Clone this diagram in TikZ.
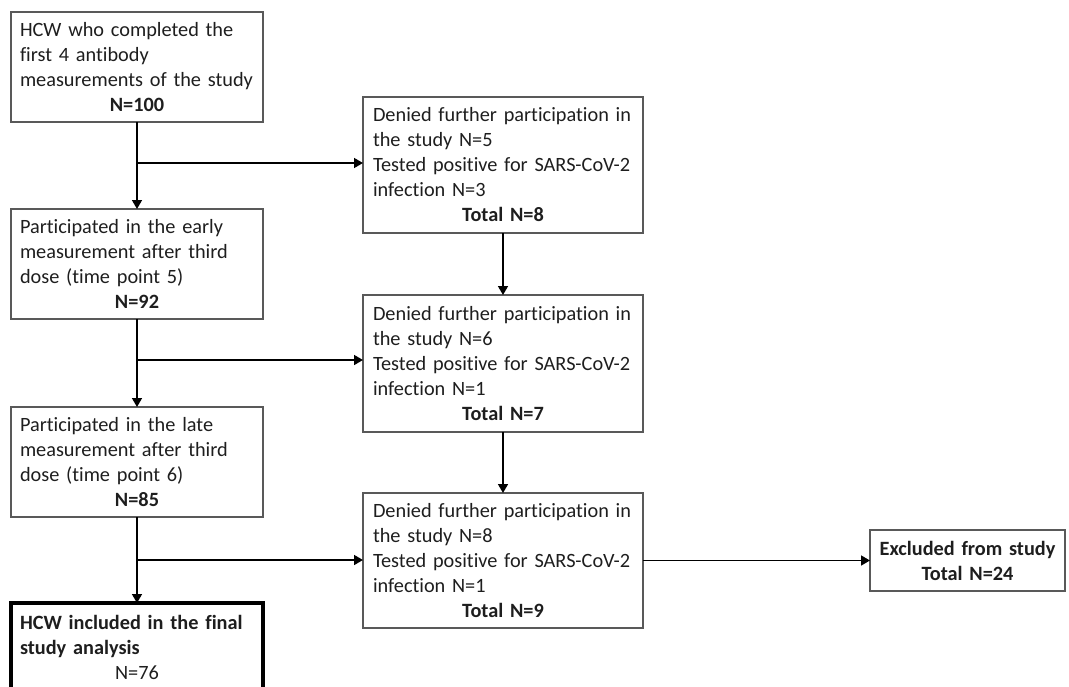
\documentclass[tikz,border=0pt]{standalone}
\usepackage{fontspec}
\setmainfont{Carlito}[Ligatures=NoCommon]
\usetikzlibrary{arrows.meta}
\definecolor{boxgray}{HTML}{595959}
\definecolor{txt}{HTML}{1E1E1E}
\newcommand\ctrline[1]{\hspace*{\fill}#1\hspace*{\fill}}
\begin{document}
\begin{tikzpicture}[x=1pt,y=-1pt,
  box/.style={draw=boxgray, line width=1.3pt, rectangle, anchor=north west,
    align=left, inner xsep=9pt, inner ysep=0pt, outer sep=0pt,
    font=\fontsize{20.3}{25}\selectfont, text=txt},
  leftbox/.style={box, text width=234pt, minimum height=110pt},
  sidebox/.style={box, inner xsep=10pt, text width=260pt},
  finalbox/.style={box, draw=black, line width=3.5pt, text width=234pt, minimum height=89pt},
  exbox/.style={box, align=center, text width=177pt, minimum height=61pt},
  conn/.style={line width=1.6pt, draw=black},
  arr/.style={conn, -{Triangle[length=9pt,width=10pt]}}]
\useasboundingbox (0,0) rectangle (1069,686);
\clip (0,0) rectangle (1069,686);

\node[leftbox] (A) at (11,12) {HCW who completed the\\first 4 antibody\\measurements of the study\\\ctrline{\textbf{N=100}}};
\node[leftbox] (C) at (11,209) {Participated in the early\\measurement after third\\dose (time point 5)\\\ctrline{\textbf{N=92}}};
\node[leftbox] (D) at (11,407) {Participated in the late\\measurement after third\\dose (time point 6)\\\ctrline{\textbf{N=85}}};
\node[finalbox] (E) at (11,603) {\textbf{HCW included in the final}\\\textbf{study analysis}\\\ctrline{N=76}};

\node[sidebox, minimum height=136pt] (B1) at (363,97) {Denied further participation in\\the study N=5\\Tested positive for SARS-CoV-2\\infection N=3\\\ctrline{\textbf{Total N=8}}};
\node[sidebox, minimum height=137pt] (B2) at (363,295) {Denied further participation in\\the study N=6\\Tested positive for SARS-CoV-2\\infection N=1\\\ctrline{\textbf{Total N=7}}};
\node[sidebox, minimum height=135pt] (B3) at (363,493) {Denied further participation in\\the study N=8\\Tested positive for SARS-CoV-2\\infection N=1\\\ctrline{\textbf{Total N=9}}};

\node[exbox] (X) at (870,530) {\textbf{Excluded from study}\\\textbf{Total N=24}};

\coordinate (j1) at (137,163);
\coordinate (j2) at (137,360);
\coordinate (j3) at (137,560);

\draw[arr] (A.south) -- (C.north);
\draw[arr] (C.south) -- (D.north);
\draw[arr] (D.south) -- (E.north);
\draw[arr] (j1) -- (j1 -| B1.west);
\draw[arr] (j2) -- (j2 -| B2.west);
\draw[arr] (j3) -- (j3 -| B3.west);
\draw[arr] (B1.south) -- (B2.north);
\draw[arr] (B2.south) -- (B3.north);
\draw[arr] (B3.east) -- (X.west);
\end{tikzpicture}
\end{document}
